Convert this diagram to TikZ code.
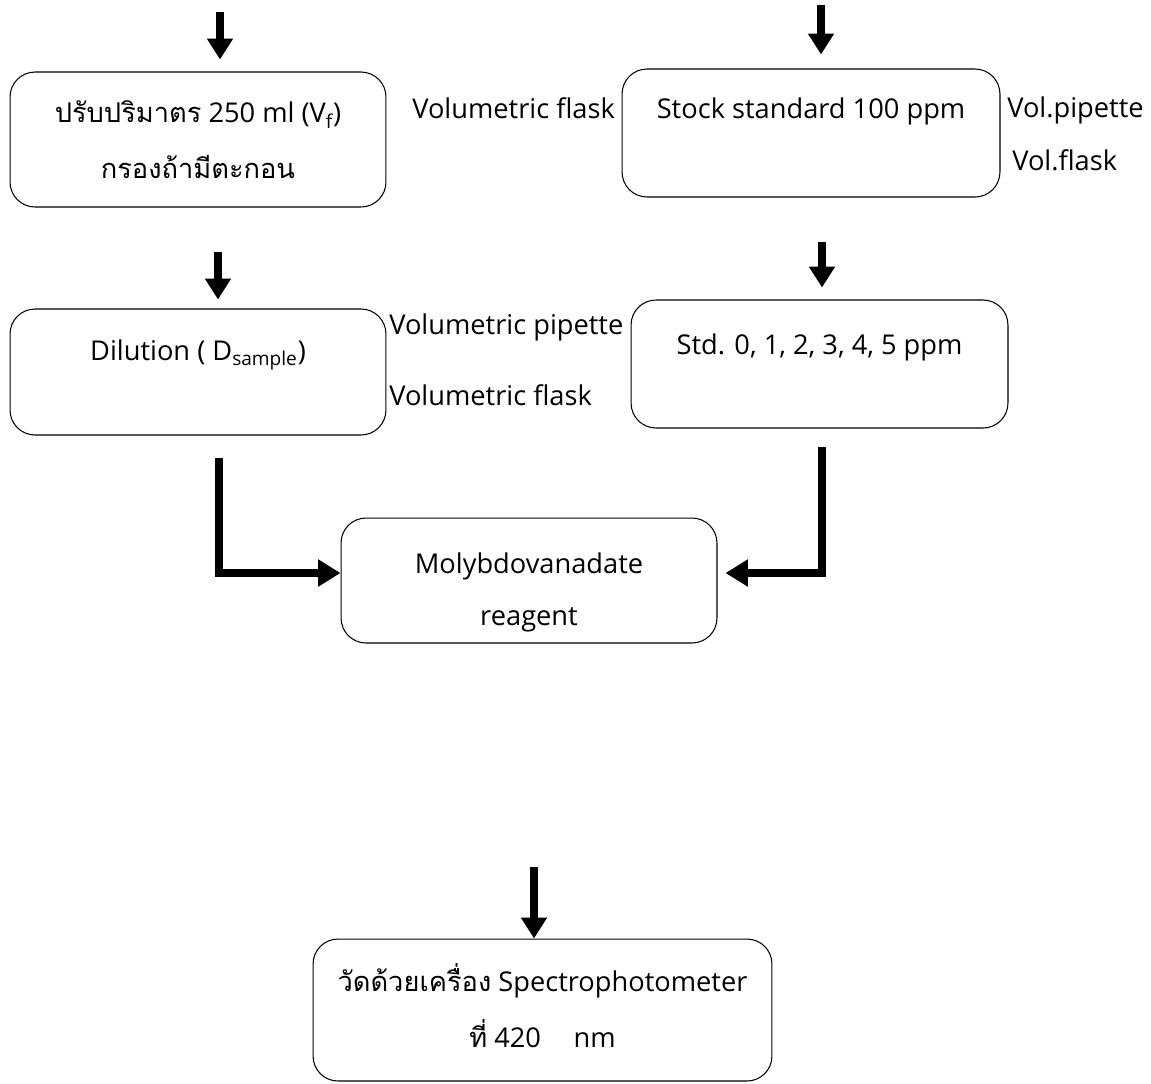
\documentclass[tikz,border=0pt]{standalone}
\usepackage{fontspec}
\setmainfont{Open Sans}
\newfontfamily\thaifont[Script=Thai]{Loma}
\usetikzlibrary{arrows.meta}
\newcommand{\lift}[2]{\raisebox{#1}[\height][\depth]{#2}}

\begin{document}
\begin{tikzpicture}[x=0.02cm, y=-0.02cm,
    font=\fontsize{15.5pt}{31.9pt}\selectfont,
    block/.style={rectangle, draw, line width=0.6pt, rounded corners=0.5cm, align=center, inner sep=0pt},
    note/.style={anchor=west, inner sep=0pt},
    down/.style={line width=0.16cm, -{Triangle[width=0.5cm, length=0.42cm]}},
    elbow/.style={line width=0.17cm, -{Triangle[width=0.52cm, length=0.45cm]}}]
    \useasboundingbox (0,0) rectangle (1151,1083);

    \node[block, minimum width=7.52cm, minimum height=2.7cm] (samp) at (198,139.5)
        {{\thaifont ปรับปริมาตร} 250 ml (V\textsubscript{f})\\{\thaifont กรองถ้ามีตะกอน}};
    \node[block, minimum width=7.56cm, minimum height=2.56cm] (stock) at (811,133)
        {\lift{0.44cm}{Stock standard 100 ppm}};
    \node[block, minimum width=7.52cm, minimum height=2.52cm] (dil) at (198,372)
        {\lift{0.34cm}{Dilution ( D\textsubscript{sample})}};
    \node[block, minimum width=7.54cm, minimum height=2.56cm] (std) at (819.5,364)
        {\lift{0.34cm}{Std. 0, 1, 2, 3, 4, 5 ppm}};
    \node[block, minimum width=7.52cm, minimum height=2.5cm] (mol) at (529,580.5)
        {\lift{-0.23cm}{Molybdovanadate}\\[-0.08cm]\lift{-0.23cm}{reagent}};
    \node[block, minimum width=9.18cm, minimum height=2.84cm] (spec) at (542.5,1010)
        {\lift{0.08cm}{{\thaifont วัดด้วยเครื่อง} Spectrophotometer}\\\lift{0.08cm}{{\thaifont ที่} 420\hspace{1.2em}nm}};

    \node[note] (vf1) at (412,108) {Volumetric flask};
    \node[note] (vp1) at (1007,110) {Vol.pipette};
    \node[note] (vf2) at (1012,160) {Vol.flask};
    \node[note] (vp2) at (389,327) {Volumetric pipette};
    \node[note] (vf3) at (389,395) {Volumetric flask};

    \coordinate (in1) at (220,12);
    \coordinate (in2) at (821,5);
    \coordinate (in3) at (218,252);
    \coordinate (in4) at (822,242);
    \coordinate (in5) at (534,867);
    \coordinate (outl) at (219,458);
    \coordinate (outr) at (822,447);

    \draw[down, shorten >=0.24cm] (in1) -- (in1 |- samp.north);
    \draw[down, shorten >=0.28cm] (in2) -- (in2 |- stock.north);
    \draw[down, shorten >=0.18cm] (in3) -- (in3 |- dil.north);
    \draw[down, shorten >=0.24cm] (in4) -- (in4 |- std.north);
    \draw[down] (in5) -- (in5 |- spec.north);
    \draw[elbow] (outl) |- ([yshift=0.15cm]mol.west);
    \draw[elbow, shorten >=0.16cm] (outr) |- ([yshift=0.15cm]mol.east);
\end{tikzpicture}
\end{document}
